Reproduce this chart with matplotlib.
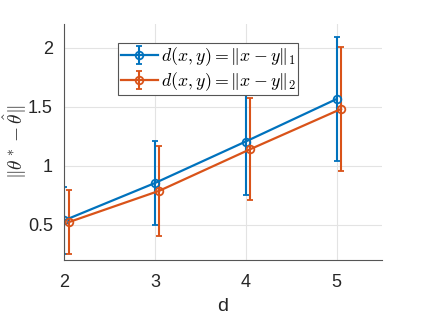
import matplotlib
matplotlib.use("Agg")
import matplotlib.pyplot as plt

plt.rcParams['font.family'] = ['Liberation Sans', 'DejaVu Sans']
plt.rcParams['mathtext.fontset'] = 'cm'

# data
d = [2, 3, 4, 5]
err_l1 = [0.535, 0.852, 1.204, 1.564]
std_l1 = [0.28, 0.354, 0.45, 0.525]
err_l2 = [0.52, 0.787, 1.139, 1.48]
std_l2 = [0.27, 0.38, 0.43, 0.525]
offset = 0.05

blue = '#0072BD'
orange = '#D95319'

fig = plt.figure(figsize=(4.23, 3.17), dpi=100)
ax = fig.add_axes([64/423, 57/317, 318/423, 236/317])

ax.errorbar(d, err_l1, yerr=std_l1, color=blue, marker='o', ms=5.5, mfc='none',
            mew=1.3, lw=1.6, capsize=2.5, elinewidth=1.5,
            label=r'$d(x,y) = \|x-y\|_1$')
ax.errorbar([v + offset for v in d], err_l2, yerr=std_l2, color=orange, marker='o',
            ms=5.5, mfc='none', mew=1.3, lw=1.6, capsize=2.5, elinewidth=1.5,
            label=r'$d(x,y) = \|x-y\|_2$')

ax.set_xlim(2, 5.5)
ax.set_ylim(0.2, 2.2)
ax.set_xticks([2, 3, 4, 5])
ax.set_yticks([0.5, 1, 1.5, 2])
ax.set_yticklabels(['0.5', '1', '1.5', '2'])
ax.grid(True, color='#e3e3e3', lw=0.8)
ax.set_axisbelow(True)
for s in ['top', 'right']:
    ax.spines[s].set_visible(False)
for s in ['left', 'bottom']:
    ax.spines[s].set_color('#555555')
ax.tick_params(labelsize=13, colors='#262626', length=0, pad=8)
ax.tick_params(axis='x', pad=10)

ax.set_xlabel('d', fontsize=14, color='#262626', labelpad=5)
ax.set_ylabel(r'$\|\theta^* - \hat{\theta}\|$', fontsize=14, color='#262626')
ax.yaxis.set_label_coords(-0.11, 0.5)

leg = ax.legend(loc='upper left', bbox_to_anchor=(0.17, 0.92), fontsize=12.8,
                frameon=True, fancybox=False, edgecolor='#555555', framealpha=1,
                borderpad=0.15, handlelength=2.1, handletextpad=0.15,
                labelspacing=0.1, borderaxespad=0)
leg.get_frame().set_linewidth(0.8)

fig.savefig('out.png', dpi=100)
